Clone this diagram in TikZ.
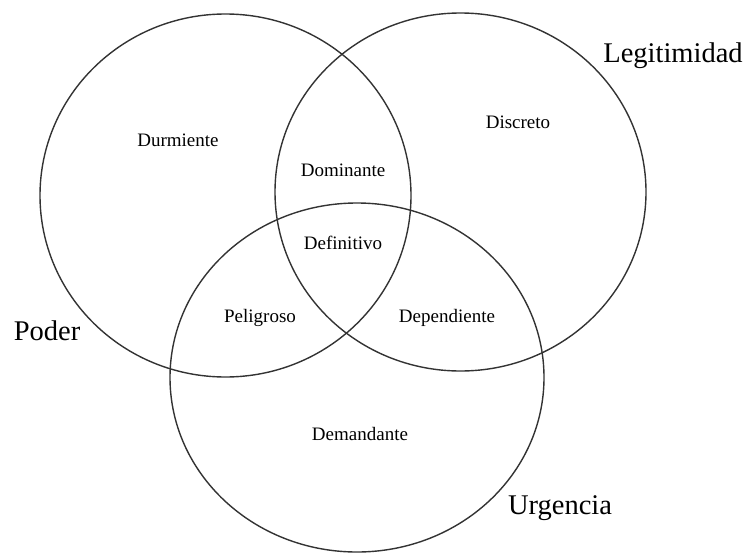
\documentclass[tikz,border=0pt]{standalone}
\usepackage{fontspec}
\setmainfont{Liberation Serif}
\usetikzlibrary{positioning}

\tikzset{
  set/.style = {draw = black!80, line width = 1.4pt},
  region/.style = {anchor = base, inner sep = 0pt, font = \fontsize{19}{22}\selectfont},
  setname/.style = {anchor = base, inner sep = 0pt, font = \fontsize{28.5}{32}\selectfont}
}

\begin{document}
\begin{tikzpicture}[x = 1pt, y = -1pt]
  \useasboundingbox (0,0) rectangle (747,554);

  \coordinate (p) at (225.5,195.5);
  \coordinate (l) at (460.5,192);
  \coordinate (u) at (357,377.5);

  \draw[set] (p) ellipse [x radius = 185.5, y radius = 181.5];
  \draw[set] (l) ellipse [x radius = 185.5, y radius = 179];
  \draw[set] (u) ellipse [x radius = 187, y radius = 174.5];

  \node[region] (durm) at (178,146) {Durmiente};
  \node[region] (disc) at (518,128) {Discreto};
  \node[region] (domi) at (343,176) {Dominante};
  \node[region] (defi) at (343,249) {Definitivo};
  \node[region] (peli) at (260,322) {Peligroso};
  \node[region] (depe) at (447,322) {Dependiente};
  \node[region] (dema) at (360,440) {Demandante};

  \node[setname] (poder) at (47,340) {Poder};
  \node[setname] (legi) at (673,62) {Legitimidad};
  \node[setname] (urge) at (560,514) {Urgencia};
\end{tikzpicture}
\end{document}
